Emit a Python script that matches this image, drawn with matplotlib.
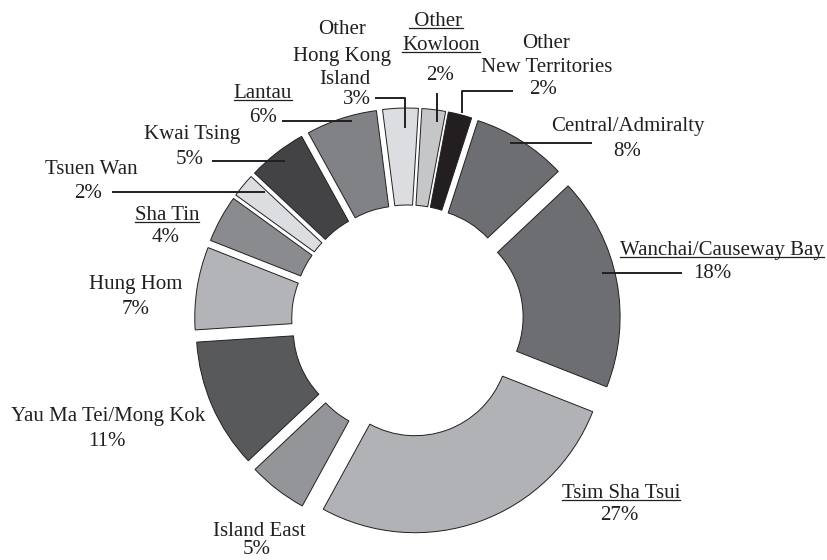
import matplotlib
matplotlib.use("Agg")
import matplotlib.pyplot as plt
from matplotlib.lines import Line2D

# ---- data ----
districts = ["Other Kowloon", "Other New Territories", "Central/Admiralty",
             "Wanchai/Causeway Bay", "Tsim Sha Tsui", "Island East",
             "Yau Ma Tei/Mong Kok", "Hung Hom", "Sha Tin", "Tsuen Wan",
             "Kwai Tsing", "Lantau", "Other Hong Kong Island"]
shares = [2, 2, 8, 18, 27, 5, 11, 7, 4, 2, 5, 6, 3]
colors = ["#c5c6c8", "#231f20", "#6d6e71", "#6d6e71", "#b1b2b5", "#939598",
          "#58595b", "#b3b4b7", "#8a8b8e", "#dcdde0", "#434345", "#808285",
          "#dcdde0"]

W, H = 827, 560
fig = plt.figure(figsize=(W / 100, H / 100), dpi=100)
ax = fig.add_axes([0, 0, 1, 1])

def Y(y):
    return H - y

cx, cy, R, rin, EXP = 407.5, 321, 191, 94, 22
ax.pie(shares, colors=colors, startangle=86.5, counterclock=False,
       center=(cx, Y(cy)), radius=R, explode=[EXP] * len(shares),
       wedgeprops=dict(width=R - rin, edgecolor="#231f20", linewidth=0.7),
       frame=True)
ax.set_xlim(0, W)
ax.set_ylim(0, H)
ax.set_aspect("equal")
ax.axis("off")

FONT = "Liberation Serif"
FS = 15.0
TC = "#231f20"

# label lines: (text, x, y_center, underline)
label_lines = [
    ("Other", 342, 30, False), ("Hong Kong", 342, 56, False),
    ("Island", 345, 79, False), ("3%", 357, 100, False),
    (" Other", 436, 21, True), ("Kowloon", 441, 45, True), ("2%", 440, 75, False),
    ("Other", 546, 43, False), ("New Territories", 547, 68, False),
    ("2%", 543, 90, False),
    ("Central/Admiralty", 628, 126, False), ("8%", 627, 152, False),
    ("Wanchai/Causeway Bay", 722, 250, True), ("18%", 712, 273, False),
    ("Tsim Sha Tsui", 621, 493, True), ("27%", 619, 515, False),
    ("Island East", 259, 532, False), ("5%", 257, 550, False),
    ("Yau Ma Tei/Mong Kok", 108, 416, False), ("11%", 107, 442, False),
    ("Hung Hom", 136, 285, False), ("7%", 136, 310, False),
    ("Sha Tin", 167, 215, True), ("4%", 166, 237, False),
    ("Tsuen Wan", 91, 169, False), ("2%", 88, 193, False),
    ("Kwai Tsing", 192, 135, False), ("5%", 190, 160, False),
    ("Lantau", 263, 93, True), ("6%", 263, 118, False),
]

texts = []
for s, x, y, ul in label_lines:
    t = ax.text(x, Y(y), s, ha="center", va="center", fontsize=FS,
                family=FONT, color=TC)
    texts.append((t, ul))

fig.canvas.draw()
renderer = fig.canvas.get_renderer()
inv = ax.transData.inverted()
for t, ul in texts:
    if not ul:
        continue
    bb = t.get_window_extent(renderer)
    (x0, y0), (x1, y1) = inv.transform([(bb.x0, bb.y0), (bb.x1, bb.y1)])
    yb = y0 + (y1 - y0) * 0.15
    ax.add_line(Line2D([x0, x1], [yb, yb], color=TC, linewidth=0.9))

# leader lines (image coordinates)
leaders = [
    [(375, 98), (405, 98), (405, 128)],
    [(437, 93), (437, 122)],
    [(513, 91), (462, 91), (462, 113)],
    [(592, 143), (510, 143)],
    [(682, 273), (602, 273)],
    [(112, 192), (265, 192)],
    [(212, 161), (285, 161)],
    [(282, 121), (352, 121)],
]
for pts in leaders:
    xs = [p[0] for p in pts]
    ys = [Y(p[1]) for p in pts]
    ax.add_line(Line2D(xs, ys, color=TC, linewidth=1.4, solid_capstyle="butt"))

fig.savefig("out.png", dpi=100)
